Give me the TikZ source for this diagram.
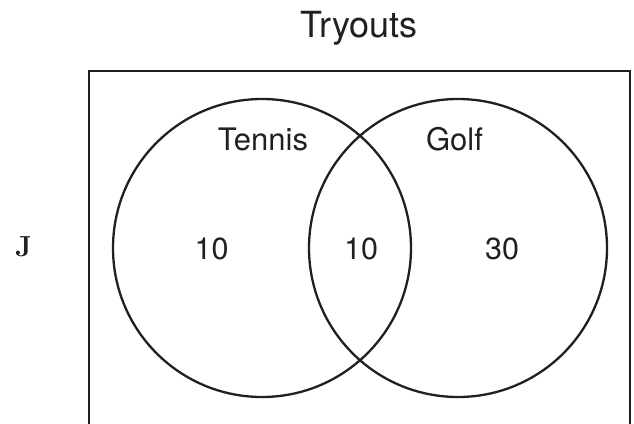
\documentclass[tikz,border=0pt]{standalone}
\usepackage{fontspec}
\setmainfont{TeX Gyre Heros}
\newfontfamily\jfont{Latin Modern Roman}
\definecolor{ink}{HTML}{231F20}
\begin{document}
\begin{tikzpicture}[x=1pt,y=1pt,
  lab/.style={anchor=base,inner sep=0pt,text=ink},
  set/.style={draw=ink,line width=2.3pt,circle,minimum size=298pt,inner sep=0pt}]
\useasboundingbox (0,0) rectangle (634,-423);
\draw[draw=ink,line width=2.8pt] (89,-440) -- (89,-71) -- (630,-71) -- (630,-440);
\node[set] (tennis) at (262,-248) {};
\node[set] (golf) at (458,-248) {};
\node[lab,font=\fontsize{36}{40}\selectfont] (title) at (359,-37) {Tryouts};
\node[lab,font=\fontsize{31}{36}\selectfont] (tl) at (263,-150.5) {Tennis};
\node[lab,font=\fontsize{31}{36}\selectfont] (gl) at (454.5,-150.5) {Golf};
\node[lab,font=\fontsize{30.5}{36}\selectfont] (a) at (211.5,-259) {10};
\node[lab,font=\fontsize{30.5}{36}\selectfont] (b) at (361,-259) {10};
\node[lab,font=\fontsize{30.5}{36}\selectfont] (c) at (502,-259) {30};
\node[lab,font=\jfont\bfseries\fontsize{29}{32}\selectfont] (j) at (23.5,-256) {J};
\end{tikzpicture}
\end{document}
